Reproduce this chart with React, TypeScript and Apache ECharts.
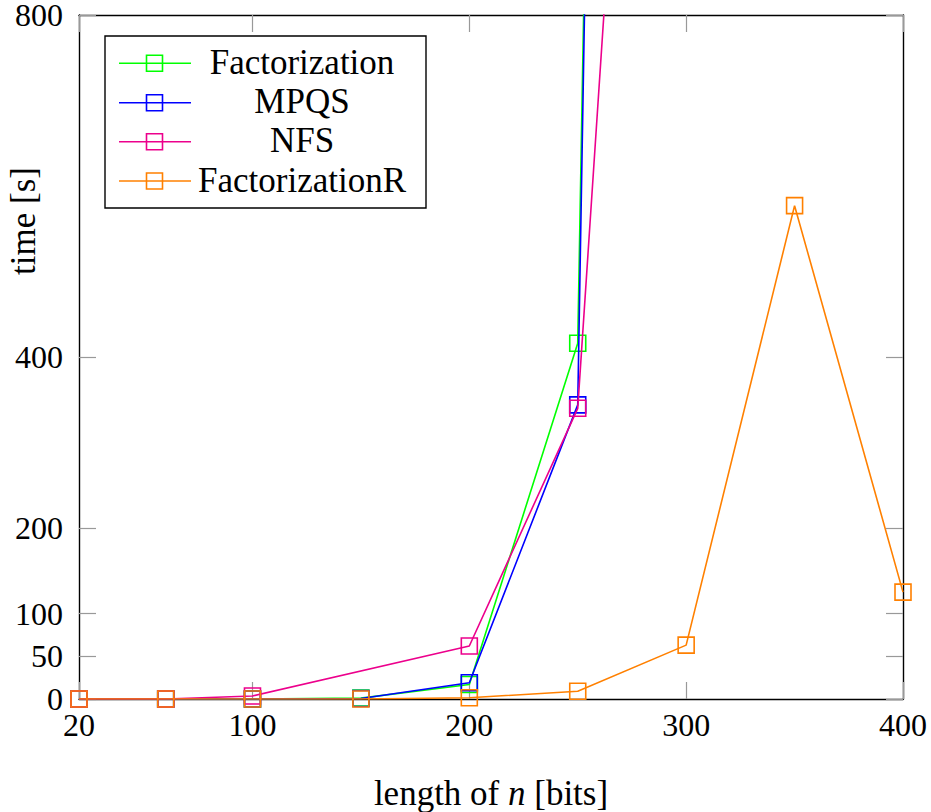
import React, { useEffect, useRef } from "react";
import * as echarts from "echarts";

// ---- data ----
const xTicks = [20, 100, 200, 300, 400];
const yTicks = [0, 50, 100, 200, 400, 800];

const factX = [20, 60, 100, 150, 200, 250, 300];
const factY = [0, 0, 0, 1, 17, 416, 7500];

const mpqsX = [20, 60, 100, 150, 200, 250, 300];
const mpqsY = [0, 0, 0, 0.5, 19, 344, 7700];

const nfsX = [20, 60, 100, 200, 250, 300];
const nfsY = [0, 0, 3.5, 62, 340, 2250];

const factRX = [20, 60, 100, 150, 200, 250, 300, 350, 400];
const factRY = [0, 0, 0, 0, 1.5, 9, 63, 577, 125];

const seriesNames = ["Factorization", "MPQS", "NFS", "FactorizationR"];
const seriesColors = ["#00ff00", "#0000ff", "#ec008c", "#ff8000"];

const FONT = "Liberation Serif";

function pairs(xs: number[], ys: number[]) {
  return xs.map((x, i) => [x, ys[i]]);
}

export default function App() {
  const ref = useRef<HTMLDivElement>(null);

  useEffect(() => {
    if (!ref.current) return;
    const chart = echarts.init(ref.current, null, { renderer: "svg" });

    const datasets = [
      pairs(factX, factY),
      pairs(mpqsX, mpqsY),
      pairs(nfsX, nfsY),
      pairs(factRX, factRY),
    ];

    const tickStyle = { color: "#999999", width: 1.2 };
    const axisLine = { show: true, onZero: false, lineStyle: { color: "#000", width: 1.4 } };

    const legendRowsY = [63.3, 102.7, 141.7, 181];
    const legendGraphics: any[] = [
      {
        type: "rect",
        shape: { x: 105, y: 36, width: 321, height: 172 },
        style: { fill: "#fff", stroke: "#000", lineWidth: 1.4 },
        z: 100,
      },
    ];
    seriesNames.forEach((name, i) => {
      const y = legendRowsY[i];
      legendGraphics.push({
        type: "line",
        shape: { x1: 119, y1: y, x2: 191, y2: y },
        style: { stroke: seriesColors[i], lineWidth: 1.6 },
        z: 101,
      });
      legendGraphics.push({
        type: "rect",
        shape: { x: 146.5, y: y - 8, width: 16, height: 16 },
        style: { fill: "none", stroke: seriesColors[i], lineWidth: 1.6 },
        z: 102,
      });
      legendGraphics.push({
        type: "text",
        x: 302,
        y: y - 1,
        style: {
          text: name,
          fontFamily: FONT,
          fontSize: 35,
          fill: "#000",
          align: "center",
          verticalAlign: "middle",
        },
        z: 102,
      });
    });

    chart.setOption({
      animation: false,
      backgroundColor: "#fff",
      grid: {
        left: 79,
        right: 28,
        top: 15,
        bottom: 113,
        containLabel: false,
        outerBoundsMode: "none",
      },
      xAxis: [
        {
          type: "value",
          min: 20,
          max: 400,
          position: "bottom",
          axisLine,
          splitLine: { show: false },
          axisTick: { show: true, inside: true, length: 17, lineStyle: tickStyle, customValues: xTicks },
          axisLabel: {
            customValues: xTicks,
            fontFamily: FONT,
            fontSize: 32,
            color: "#000",
            margin: 10,
          },
        },
        {
          type: "value",
          min: 20,
          max: 400,
          position: "top",
          axisLine,
          splitLine: { show: false },
          axisTick: { show: true, inside: true, length: 17, lineStyle: tickStyle, customValues: xTicks },
          axisLabel: { show: false },
        },
      ],
      yAxis: [
        {
          type: "value",
          min: 0,
          max: 800,
          position: "left",
          axisLine,
          splitLine: { show: false },
          axisTick: { show: true, inside: true, length: 17, lineStyle: tickStyle, customValues: yTicks },
          axisLabel: {
            customValues: yTicks,
            fontFamily: FONT,
            fontSize: 32,
            lineHeight: 26,
            color: "#000",
            margin: 16,
          },
        },
        {
          type: "value",
          min: 0,
          max: 800,
          position: "right",
          axisLine,
          splitLine: { show: false },
          axisTick: { show: true, inside: true, length: 17, lineStyle: tickStyle, customValues: yTicks },
          axisLabel: { show: false },
        },
      ],
      series: datasets.map((d, i) => ({
        name: seriesNames[i],
        type: "line",
        data: d,
        xAxisIndex: 0,
        yAxisIndex: 0,
        clip: true,
        symbol: "rect",
        symbolSize: 16,
        showAllSymbol: true,
        lineStyle: { color: seriesColors[i], width: 1.6 },
        itemStyle: { color: "rgba(0,0,0,0)", borderColor: seriesColors[i], borderWidth: 1.6 },
        emphasis: { disabled: true },
        z: 2 + i,
      })),
      graphic: [
        ...legendGraphics,
        {
          type: "text",
          x: 23,
          y: 221,
          rotation: Math.PI / 2,
          style: {
            text: "time [s]",
            fontFamily: FONT,
            fontSize: 35,
            fill: "#000",
            align: "center",
            verticalAlign: "middle",
          },
        },
        {
          type: "text",
          x: 491,
          y: 793,
          style: {
            text: "{a|length of }{b|n}{a| [bits]}",
            align: "center",
            verticalAlign: "middle",
            rich: {
              a: { fontFamily: FONT, fontSize: 35, fill: "#000" },
              b: { fontFamily: FONT, fontSize: 35, fontStyle: "italic", fill: "#000" },
            },
          },
        },
      ],
    });

    return () => chart.dispose();
  }, []);

  return (
    <div
      ref={ref}
      style={{ position: "fixed", left: 0, top: 0, width: 931, height: 812, background: "#fff" }}
    />
  );
}
